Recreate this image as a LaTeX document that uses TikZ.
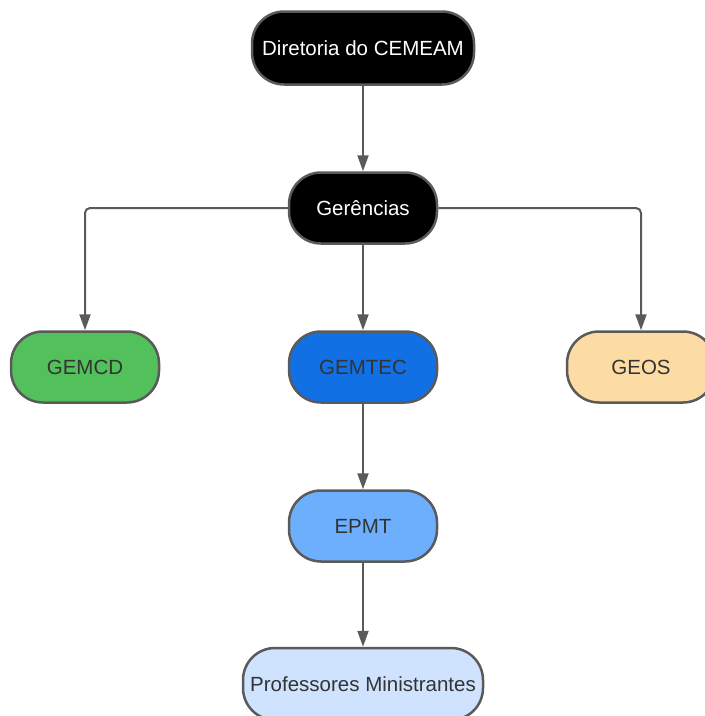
\documentclass[tikz,border=0pt]{standalone}
\usepackage{fontspec}
\setmainfont{Liberation Sans}
\usetikzlibrary{arrows.meta}
\definecolor{edgegrey}{HTML}{5A5A5A}
\definecolor{txtgrey}{HTML}{333333}
\definecolor{cgreen}{HTML}{52C15B}
\definecolor{cblue}{HTML}{1170E4}
\definecolor{clight}{HTML}{6DAFFD}
\definecolor{cpale}{HTML}{CFE3FF}
\definecolor{corange}{HTML}{FDDBA5}
\tikzset{
  x=1pt, y=-1pt,
  box/.style={draw=edgegrey, line width=2.5pt, rounded corners=32pt,
    minimum width=148pt, minimum height=71pt, inner sep=0pt,
    font=\fontsize{20.5}{24}\selectfont, text=txtgrey},
  darkbox/.style={box, fill=black, text=white},
  conn/.style={draw=edgegrey, line width=2pt, rounded corners=5pt,
    -{Triangle[width=11pt,length=16pt]}}
}
\begin{document}
\begin{tikzpicture}
\useasboundingbox (0,0) rectangle (705,716);
\clip (0,0) rectangle (705,716);
\node[darkbox, minimum width=222pt, minimum height=73pt] (dir) at (363,48) {Diretoria do CEMEAM};
\node[darkbox] (ger) at (363,208) {Gerências};
\node[box, fill=cgreen] (gemcd) at (85,367) {GEMCD};
\node[box, fill=cblue] (gemtec) at (363,367) {GEMTEC};
\node[box, fill=corange] (geos) at (641,367) {GEOS};
\node[box, fill=clight] (epmt) at (363,526) {EPMT};
\node[box, fill=cpale, minimum width=240pt, minimum height=72pt] (prof) at (363,684) {Professores Ministrantes};
\draw[conn] (dir) -- (ger);
\draw[conn] (ger.west) -| (gemcd.north);
\draw[conn] (ger) -- (gemtec);
\draw[conn] (ger.east) -| (geos.north);
\draw[conn] (gemtec) -- (epmt);
\draw[conn] (epmt) -- (prof);
\end{tikzpicture}
\end{document}
